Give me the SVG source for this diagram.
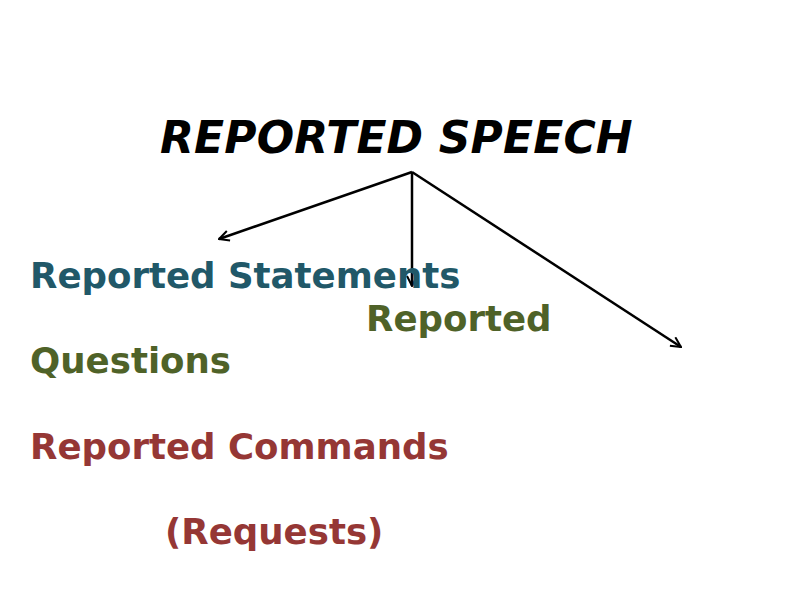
<svg xmlns="http://www.w3.org/2000/svg" width="800" height="600" viewBox="0 0 800 600">
<style>
text{font-family:"DejaVu Sans","Liberation Sans",sans-serif;font-weight:bold}
.t{font-size:44px;font-style:italic;fill:#000;letter-spacing:0.15px}
.s{font-size:35.6px}
.c1{fill:#215868}.c2{fill:#4F6228}.c3{fill:#953735}
.ln{stroke:#000;stroke-width:2.5;fill:none}
</style>
<defs>
<marker id="ah" viewBox="0 0 12 12" refX="11" refY="6" markerWidth="12" markerHeight="12" markerUnits="userSpaceOnUse" orient="auto">
<path d="M1,1 L11,6 L1,11" fill="none" stroke="#000" stroke-width="2"/>
</marker>
</defs>
<rect width="800" height="600" fill="#fff"/>
<g id="title"><text class="t" x="160" y="153">REPORTED SPEECH</text></g>
<g id="connectors">
<line class="ln" x1="412" y1="172" x2="219" y2="239" marker-end="url(#ah)"/>
<line class="ln" x1="412" y1="172" x2="412" y2="286" marker-end="url(#ah)"/>
<line class="ln" x1="412" y1="172" x2="681" y2="347" marker-end="url(#ah)"/>
</g>
<g id="statements"><text class="s c1" x="30" y="288">Reported Statements</text></g>
<g id="questions"><text class="s c2" x="366" y="331">Reported</text><text class="s c2" x="30" y="373">Questions</text></g>
<g id="commands"><text class="s c3" x="30" y="459">Reported Commands</text><text class="s c3" x="165" y="544">(Requests)</text></g>
</svg>
